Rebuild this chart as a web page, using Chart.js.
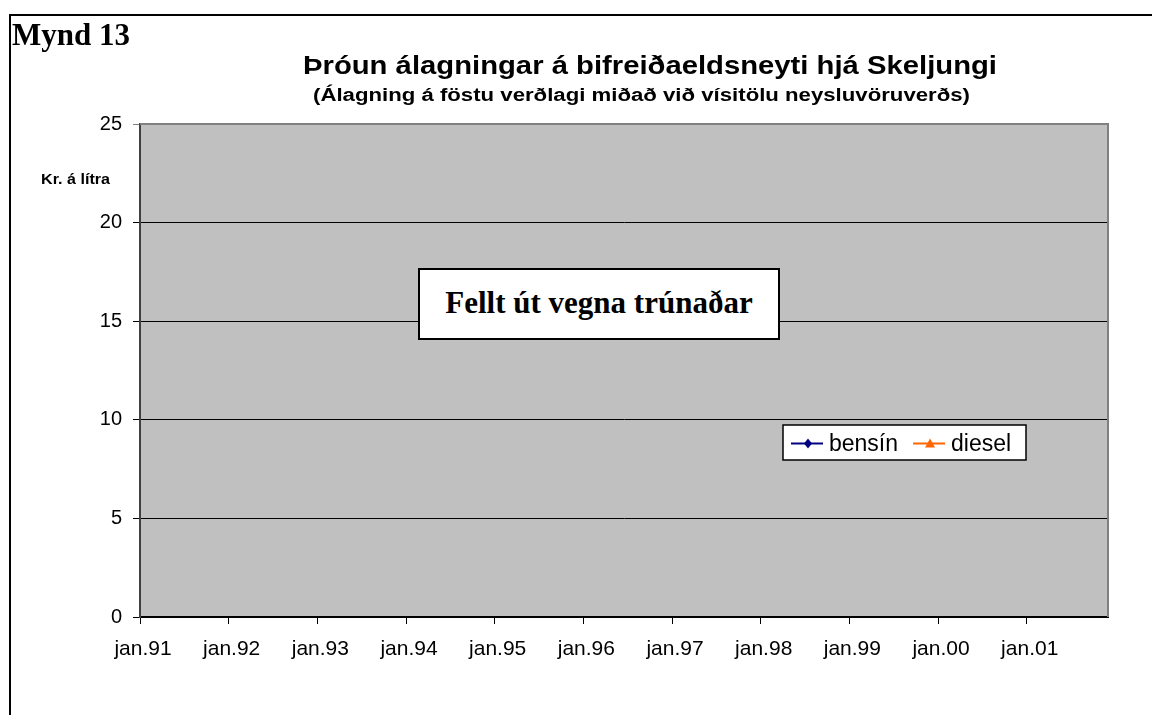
<!DOCTYPE html>
<html lang="is">
<head>
<meta charset="utf-8">
<title>Mynd 13</title>
<script src="https://cdn.jsdelivr.net/npm/chart.js@4.4.1/dist/chart.umd.min.js"></script>
<style>
html,body{margin:0;padding:0;background:#fff;}
body{width:1152px;height:715px;position:relative;overflow:hidden;font-family:Arial,"Liberation Sans",sans-serif;}
#frame{position:absolute;left:9px;top:14px;width:1300px;height:900px;border-left:2px solid #000;border-top:2px solid #000;}
#c{position:absolute;left:0;top:0;}
.txt{position:absolute;white-space:nowrap;transform-origin:left top;color:#000;}
#mynd{left:12px;top:19px;font:bold 31px/31px "Liberation Serif","Times New Roman",serif;}
#title{left:303px;top:52px;font:bold 26px/26px Arial,"Liberation Sans",sans-serif;}
#subtitle{left:313px;top:86px;font:bold 18px/18px Arial,"Liberation Sans",sans-serif;}
#ylab{left:41px;top:171px;font:bold 15px/15px Arial,"Liberation Sans",sans-serif;}
#note{position:absolute;left:418px;top:268px;width:362px;height:72px;box-sizing:border-box;background:#fff;border:2px solid #000;
  display:flex;align-items:center;justify-content:center;font:bold 31px/31px "Liberation Serif","Times New Roman",serif;padding-bottom:4px;}
</style>
</head>
<body>
<div id="frame"></div>
<canvas id="c" width="1152" height="715"></canvas>
<div class="txt" id="mynd">Mynd 13</div>
<div class="txt" id="title">Þróun álagningar á bifreiðaeldsneyti hjá Skeljungi</div>
<div class="txt" id="subtitle">(Álagning á föstu verðlagi miðað við vísitölu neysluvöruverðs)</div>
<div class="txt" id="ylab">Kr. á lítra</div>
<div id="note">Fellt út vegna trúnaðar</div>
<script>
// tick labels on the time axis, one per January
const yearLabels = ['jan.91','jan.92','jan.93','jan.94','jan.95','jan.96','jan.97','jan.98','jan.99','jan.00','jan.01'];
const monthsPerYear = 12;
const monthCount = 131; // jan.91 - nóv.01

// series values were withheld in the source (felld út vegna trúnaðar)
const bensinValues = [];
const dieselValues = [];

const yMin = 0, yMax = 25, yStep = 5;

// stretch a few html labels to the width they have in the picture
function fitWidth(id, w){
    const el = document.getElementById(id);
    const nat = el.getBoundingClientRect().width;
    el.style.transform = 'scaleX(' + (w / nat) + ')';
}
fitWidth('title', 694);
fitWidth('subtitle', 657);
fitWidth('ylab', 69);

const plotBg = {
    id:'plotBg',
    beforeDraw(chart){
        const {ctx, chartArea:a} = chart;
        ctx.save();
        ctx.fillStyle = '#c0c0c0';
        ctx.fillRect(a.left, a.top, a.right - a.left, a.bottom - a.top);
        ctx.restore();
    },
    afterDraw(chart){
        const {ctx, chartArea:a} = chart;
        ctx.save();
        ctx.strokeStyle = '#808080';
        ctx.lineWidth = 2;
        ctx.beginPath();
        ctx.moveTo(a.left, a.top);
        ctx.lineTo(a.right, a.top);
        ctx.lineTo(a.right, a.bottom);
        ctx.stroke();
        ctx.restore();
    }
};

// boxed legend sitting inside the plot, like the excel one
const boxLegend = {
    id:'boxLegend',
    afterDraw(chart){
        const {ctx, chartArea:a} = chart;
        const x = a.left + 643, y = 425, w = 243, h = 35;
        const cy = y + 18.5;
        ctx.save();
        ctx.fillStyle = '#fff';
        ctx.fillRect(x, y, w, h);
        ctx.strokeStyle = '#000';
        ctx.lineWidth = 1.5;
        ctx.strokeRect(x, y, w, h);
        ctx.font = '23px Arial, "Liberation Sans", sans-serif';
        ctx.textBaseline = 'middle';
        let cx = x + 8;
        chart.data.datasets.forEach(ds => {
            ctx.strokeStyle = ds.borderColor;
            ctx.fillStyle = ds.borderColor;
            ctx.lineWidth = 2;
            ctx.beginPath();
            ctx.moveTo(cx, cy);
            ctx.lineTo(cx + 32, cy);
            ctx.stroke();
            const px = cx + 17;
            ctx.beginPath();
            if (ds.pointStyle === 'triangle') {
                ctx.moveTo(px, cy - 5);
                ctx.lineTo(px + 5, cy + 4);
                ctx.lineTo(px - 5, cy + 4);
            } else {
                ctx.moveTo(px, cy - 5);
                ctx.lineTo(px + 4, cy);
                ctx.lineTo(px, cy + 5);
                ctx.lineTo(px - 4, cy);
            }
            ctx.closePath();
            ctx.fill();
            ctx.fillStyle = '#000';
            ctx.fillText(ds.label, cx + 38, cy + 1);
            cx += 38 + ctx.measureText(ds.label).width + 15;
        });
        ctx.restore();
    }
};

new Chart(document.getElementById('c'), {
    type:'line',
    data:{
        datasets:[
            {label:'bensín', data:bensinValues.map((v,i)=>({x:i, y:v})), borderColor:'#000080', backgroundColor:'#000080', pointStyle:'rectRot', borderWidth:2},
            {label:'diesel', data:dieselValues.map((v,i)=>({x:i, y:v})), borderColor:'#ff6600', backgroundColor:'#ff6600', pointStyle:'triangle', borderWidth:2}
        ]
    },
    options:{
        responsive:false,
        animation:false,
        layout:{padding:{top:124, right:44, left:0, bottom:0}},
        plugins:{legend:{display:false}, title:{display:false}, tooltip:{enabled:false}},
        scales:{
            x:{
                type:'linear',
                min:0,
                max:monthCount,
                afterBuildTicks: s => { s.ticks = yearLabels.map((_, i) => ({value:i * monthsPerYear})); },
                afterFit: s => { s.height = 98; },
                ticks:{
                    callback: v => yearLabels[v / monthsPerYear],
                    autoSkip:false, maxRotation:0,
                    color:'#000', padding:13, labelOffset:3,
                    font:{family:'Arial, "Liberation Sans", sans-serif', size:21}
                },
                grid:{drawOnChartArea:false, drawTicks:true, tickLength:7, color:'#000'},
                border:{color:'#000', width:2}
            },
            y:{
                min:yMin, max:yMax,
                afterFit: s => { s.width = 140; },
                ticks:{
                    stepSize:yStep,
                    color:'#000', padding:11,
                    font:{family:'Arial, "Liberation Sans", sans-serif', size:20}
                },
                grid:{
                    color: c => c.tick && c.tick.value === yMax ? '#808080' : '#000',
                    lineWidth:1, tickLength:7
                },
                border:{color:'#404040', width:2}
            }
        }
    },
    plugins:[plotBg, boxLegend]
});
</script>
</body>
</html>
